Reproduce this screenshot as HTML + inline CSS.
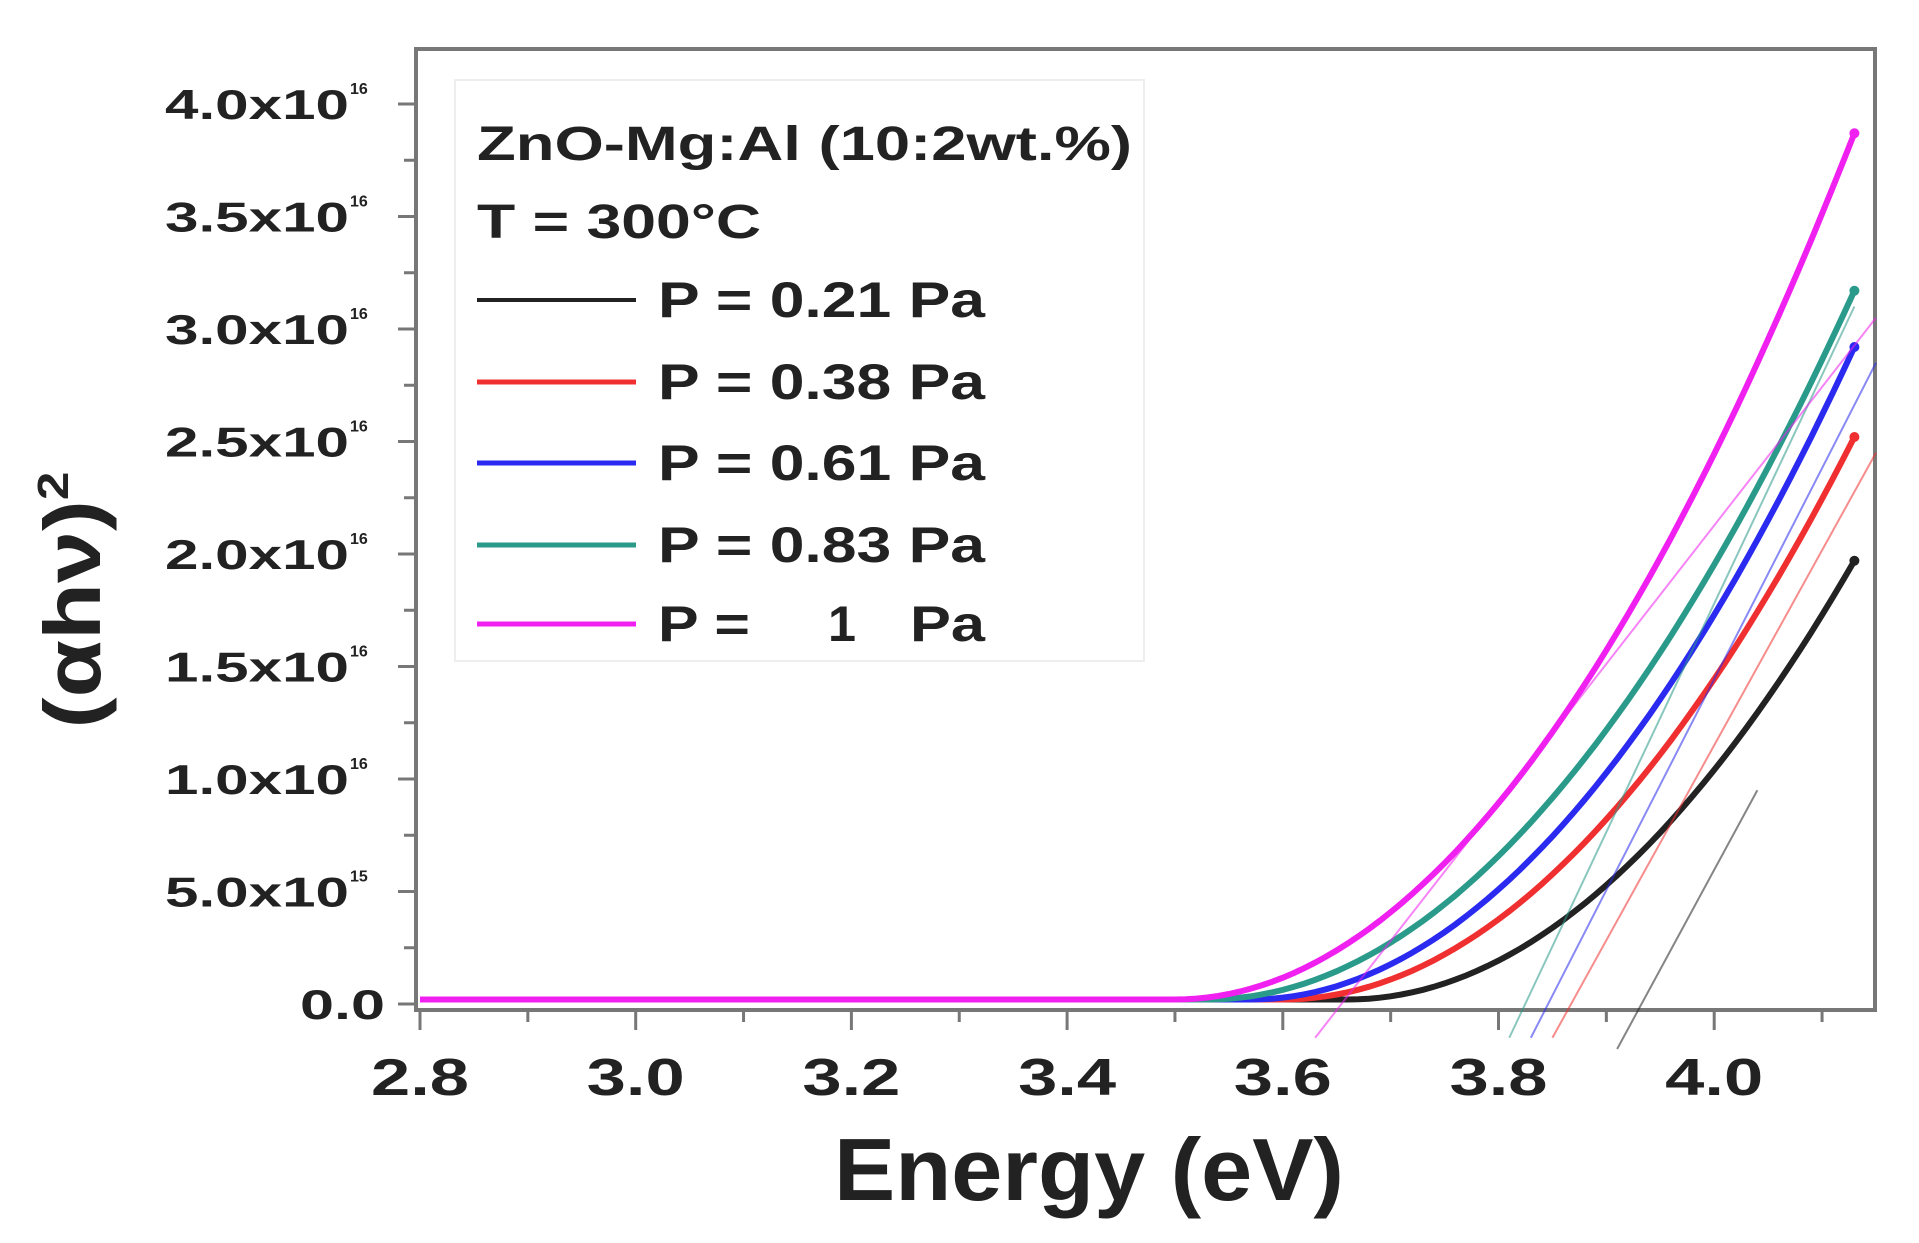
<!DOCTYPE html>
<html><head><meta charset="utf-8"><style>
body{margin:0;background:#fff;width:1919px;height:1243px;overflow:hidden}
svg{display:block}
text{font-family:"Liberation Sans",sans-serif;font-weight:bold;fill:#222}
</style></head><body>
<svg id="s" width="1919" height="1243" xmlns="http://www.w3.org/2000/svg">
<rect x="416" y="49" width="1459" height="961" fill="none" stroke="#777" stroke-width="4"/>
<g id="ax"></g>
<g id="cv"></g>
<rect x="455" y="80" width="689" height="581" fill="none" stroke="#eee" stroke-width="2"/>
<text x="477" y="160" font-size="48" textLength="655" lengthAdjust="spacingAndGlyphs">ZnO-Mg:Al (10:2wt.%)</text>
<text x="477" y="238" font-size="48" textLength="284" lengthAdjust="spacingAndGlyphs">T = 300°C</text>
<g font-size="50">
<line x1="477" y1="300" x2="636" y2="300" stroke="#222" stroke-width="4"/><text x="658" y="317" textLength="327" lengthAdjust="spacingAndGlyphs">P = 0.21 Pa</text>
<line x1="477" y1="382" x2="636" y2="382" stroke="#f03030" stroke-width="5"/><text x="658" y="399" textLength="327" lengthAdjust="spacingAndGlyphs">P = 0.38 Pa</text>
<line x1="477" y1="463" x2="636" y2="463" stroke="#2a2af0" stroke-width="5"/><text x="658" y="480" textLength="327" lengthAdjust="spacingAndGlyphs">P = 0.61 Pa</text>
<line x1="477" y1="545" x2="636" y2="545" stroke="#2a9a8a" stroke-width="5"/><text x="658" y="562" textLength="327" lengthAdjust="spacingAndGlyphs">P = 0.83 Pa</text>
<line x1="477" y1="624" x2="636" y2="624" stroke="#f020f0" stroke-width="5"/><text x="658" y="641" textLength="92" lengthAdjust="spacingAndGlyphs">P =</text><text x="828" y="641" textLength="28" lengthAdjust="spacingAndGlyphs">1</text><text x="910" y="641" textLength="75" lengthAdjust="spacingAndGlyphs">Pa</text>
</g>
<text x="1089" y="1200" font-size="88" text-anchor="middle" textLength="510" lengthAdjust="spacingAndGlyphs">Energy (eV)</text>
<text transform="translate(100,600) rotate(-90)" font-size="80" text-anchor="middle" textLength="257" lengthAdjust="spacingAndGlyphs">(αhν)<tspan font-size="44" dy="-32">2</tspan></text>
</svg>
<script>
var X=function(e){return 420+(e-2.8)/0.2*215.7},Y=function(v){return 1004-v*225};
var ax=document.getElementById('ax'),cv=document.getElementById('cv'),h='';
for(var i=0;i<=13;i++){var e=2.8+i*0.1,x=X(e);h+='<line x1="'+x+'" y1="1010" x2="'+x+'" y2="'+(i%2?1022:1030)+'" stroke="#777" stroke-width="3"/>';
if(i%2==0)h+='<text x="'+x+'" y="1095" font-size="52" text-anchor="middle" textLength="98" lengthAdjust="spacingAndGlyphs">'+e.toFixed(1)+'</text>';}
var labs=['0.0','5.0x10','1.0x10','1.5x10','2.0x10','2.5x10','3.0x10','3.5x10','4.0x10'];
for(var i=0;i<=16;i++){var y=Y(i*0.25);h+='<line x1="416" y1="'+y+'" x2="'+(i%2?404:398)+'" y2="'+y+'" stroke="#777" stroke-width="3"/>';
if(i%2==0){var k=i/2;if(k==0)h+='<text x="300" y="'+(y+15)+'" font-size="42" textLength="85" lengthAdjust="spacingAndGlyphs">0.0</text>';
else{h+='<text x="165" y="'+(y+15)+'" font-size="42" textLength="184" lengthAdjust="spacingAndGlyphs">'+labs[k]+'</text>';h+='<text x="350" y="'+(y-10)+'" font-size="16">'+(k==1?'15':'16')+'</text>';}}}
ax.innerHTML=h;
var S=[['#222',3.66,1.95,3.91,-0.2,4.04,0.95],['#f03030',3.6,2.5,3.85,-0.15,4.15,2.45],['#2a2af0',3.57,2.9,3.83,-0.15,4.15,2.85],['#2a9a8a',3.53,3.15,3.81,-0.15,4.13,3.1],['#f020f0',3.5,3.85,3.63,-0.15,4.15,3.05]];
var c='';
S.forEach(function(s){var A=s[2]/Math.pow(4.13-s[1],2),p='';
for(var e=2.8;e<=4.1301;e+=0.01){var v=e<s[1]?0.02:0.02+A*Math.pow(e-s[1],2);p+=(p?'L':'M')+X(e).toFixed(1)+','+Y(v).toFixed(1);}
c+='<line x1="'+X(s[3])+'" y1="'+Y(s[4])+'" x2="'+X(s[5])+'" y2="'+Y(s[6])+'" stroke="'+s[0]+'" stroke-width="2" opacity="0.55"/>';
c+='<path d="'+p+'" fill="none" stroke="'+s[0]+'" stroke-width="6"/>';
c+='<circle cx="'+X(4.13)+'" cy="'+Y(s[2]+0.02)+'" r="5" fill="'+s[0]+'"/>';});
cv.innerHTML=c;
</script>
</body></html>
